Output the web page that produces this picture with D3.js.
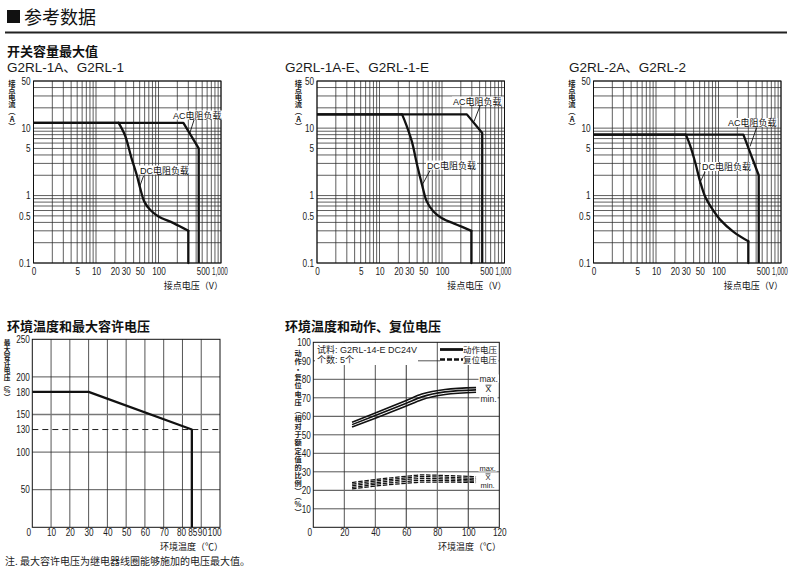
<!DOCTYPE html>
<html><head><meta charset="utf-8">
<script src="https://cdn.jsdelivr.net/npm/d3@7"></script>
<style>
body{margin:0;background:#fff;}
svg{display:block;}
</style></head><body>
<svg id="c" width="800" height="575"></svg>
<script>
// ---------------- DATA ----------------
// switching capacity charts (log-log): contact voltage (V) vs contact current (A)
const voltTicks = [1, 5, 10, 20, 30, 50, 100, 500, 1000];
const voltTickText = ["0", "5", "10", "20", "30", "50", "100", "500", "1,000"];
const currTicks = [0.1, 0.5, 1, 5, 10, 50];
const currTickText = ["0.1", "0.5", "1", "5", "10", "50"];

const g1AcV = [1, 250, 440, 440];
const g1AcA = [12, 12, 5, 0.1];
const g1DcV = [1, 23, 29, 37, 45, 51, 59, 74, 100, 174, 300, 300];
const g1DcA = [12, 12, 7.9, 3.6, 2.0, 1.28, 0.82, 0.61, 0.49, 0.39, 0.3, 0.1];

const g2AcV = [1, 250, 440, 440];
const g2AcA = [16, 16, 8.5, 0.1];
const g2DcV = [1, 23, 27, 33, 40, 48, 57, 73, 100, 173, 295, 295];
const g2DcA = [16, 16, 11, 6.3, 2.84, 1.44, 0.82, 0.58, 0.46, 0.37, 0.3, 0.1];

const g3AcV = [1, 250, 440, 440];
const g3AcA = [8, 8, 2, 0.1];
const g3DcV = [1, 30, 35, 42, 51, 61, 78, 106, 174, 300, 300];
const g3DcA = [8, 8, 5.6, 3.2, 1.6, 0.97, 0.65, 0.44, 0.29, 0.21, 0.1];

// ambient temperature vs max allowable voltage
const tempTicksL = [0, 10, 20, 30, 40, 50, 60, 70, 80, 85, 90, 100];
const pctTicksL = [250, 200, 180, 150, 130, 100, 50];
const maxTemp = [0, 30, 85, 85];
const maxPct = [180, 180, 130, 0];
const dashedPct = 130;

// ambient temperature vs operate / release voltage
const tempTicksR = [0, 20, 40, 60, 80, 100, 120];
const pctTicksR = [10, 20, 30, 40, 50, 60, 70, 80, 90, 100];
const sampleTemp = [25, 40, 60, 70, 85, 105];
const opMax  = [56.8, 61.8, 68.6, 72.0, 74.5, 75.5];
const opMean = [55.5, 60.4, 67.1, 70.5, 73.2, 74.3];
const opMin  = [54.2, 59.0, 65.6, 69.0, 71.8, 73.0];
const rel1 = [24.2, 25.8, 27.6, 28.3, 28.0, 27.3];
const rel2 = [23.3, 25.0, 26.7, 27.4, 27.1, 26.4];
const rel3 = [22.4, 24.1, 25.8, 26.4, 26.2, 25.6];
const rel4 = [21.5, 23.2, 24.8, 25.4, 25.3, 24.9];
const rel5 = [20.7, 22.3, 23.8, 24.4, 24.4, 24.2];

// ---------------- DRAW ----------------
const FONT = '"Liberation Sans", Arial, "Noto Sans CJK SC", sans-serif';
const CJK = '"Noto Sans CJK SC", "Liberation Sans", sans-serif';
const svg = d3.select("#c").style("font-family", FONT);
const GRID = "#2a2a2a";

function txt(g, s, x, y, size, opts = {}) {
  const t = g.append("text").attr("x", x).attr("y", y).attr("font-size", size)
    .attr("fill", opts.fill || "#111").text(s);
  if (opts.anchor) t.attr("text-anchor", opts.anchor);
  if (opts.weight) t.attr("font-weight", opts.weight);
  if (opts.family) t.attr("font-family", opts.family);
  return t;
}
function bgText(g, s, x, y, size, opts = {}) {
  const gg = g.append("g");
  const r = gg.append("rect").attr("fill", "#fff");
  const t = txt(gg, s, x, y, size, opts);
  const b = t.node().getBBox();
  r.attr("x", b.x - 1).attr("y", b.y + 1).attr("width", b.width + 2).attr("height", b.height - 2);
  return t;
}
// vertical (top-to-bottom) stacked label as one text element
function vertText(g, s, x, yFirstCenter, step, size) {
  g.append("text").attr("x", x).attr("y", yFirstCenter - step / 2)
    .attr("font-family", CJK).attr("font-size", size).attr("font-weight", "bold")
    .attr("fill", "#222").attr("letter-spacing", step - size)
    .style("writing-mode", "vertical-rl").style("text-orientation", "upright")
    .text(s);
}
// tick labels: condensed look (the reference uses a narrow face)
function styleTicks(sel, size) {
  sel.selectAll("text").attr("font-size", size).attr("fill", "#1a1a1a").attr("font-family", FONT)
    .each(function () {
      const l = this.getComputedTextLength();
      d3.select(this).attr("textLength", l * 0.82).attr("lengthAdjust", "spacingAndGlyphs");
    });
}

// Header
svg.append("rect").attr("x", 7).attr("y", 10).attr("width", 13).attr("height", 13).attr("fill", "#111");
txt(svg, "参考数据", 24, 24, 18, {family: CJK});
svg.append("line").attr("x1", 5).attr("x2", 787).attr("y1", 32.5).attr("y2", 32.5)
  .attr("stroke", "#222").attr("stroke-width", 2);
txt(svg, "开关容量最大值", 7, 56, 13, {family: CJK, weight: "bold"});

// ---------- log charts ----------
const yTop = d3.scaleLog().domain([0.1, 50]).range([263, 81]);
const vGrid = [];
[1, 10, 100].forEach(n => { for (let k = 1; k <= 9; k++) vGrid.push(k * n); });
vGrid.push(1000);
const hGrid = [];
[0.1, 1].forEach(n => { for (let k = 1; k <= 9; k++) hGrid.push(+(k * n).toFixed(2)); });
[10, 20, 30, 40, 50].forEach(v => hGrid.push(v));

function logChart(cfg) {
  const L = cfg.left, R = cfg.left + 187.5;
  const x = d3.scaleLog().domain([1, 1000]).range([L, R]);
  const y = yTop;
  const g = svg.append("g");
  txt(g, cfg.title, cfg.titleX, 72, 13.5, {fill: "#1a1a1a"});

  g.selectAll(".vg").data(vGrid).join("line")
    .attr("x1", d => x(d)).attr("x2", d => x(d)).attr("y1", y(50)).attr("y2", y(0.1))
    .attr("stroke", GRID).attr("stroke-width", 0.75);
  g.selectAll(".hg").data(hGrid).join("line")
    .attr("x1", L).attr("x2", R).attr("y1", d => y(d)).attr("y2", d => y(d))
    .attr("stroke", GRID).attr("stroke-width", 0.75);
  g.append("rect").attr("x", L).attr("y", y(50)).attr("width", R - L).attr("height", y(0.1) - y(50))
    .attr("fill", "none").attr("stroke", "#111").attr("stroke-width", 1);

  // axes
  const ax = g.append("g").attr("transform", `translate(0,${y(0.1)})`)
    .call(d3.axisBottom(x).tickValues(voltTicks).tickFormat((d, i) => voltTickText[i]).tickSize(0).tickPadding(5));
  ax.select(".domain").remove();
  styleTicks(ax, 10);
  ax.selectAll(".tick").filter(d => d === 500).select("text")
    .attr("text-anchor", "end").attr("x", 7.3).attr("textLength", 13.2);
  ax.selectAll(".tick").filter(d => d === 1000).select("text")
    .attr("text-anchor", "start").attr("x", x(500) - x(1000) + 9.3).attr("textLength", 15.8);

  const ay = g.append("g").attr("transform", `translate(${L},0)`)
    .call(d3.axisLeft(y).tickValues(currTicks).tickFormat((d, i) => currTickText[i]).tickSize(0).tickPadding(3));
  ay.select(".domain").remove();
  styleTicks(ay, 10);

  vertText(g, "接点电流（A）", cfg.ylabX, 83, 7.15, 7.3);
  txt(g, "接点电压（V）", R + 2, 289, 9, {anchor: "end", family: CJK});

  // curves
  const pts = (vs, as) => vs.map((v, i) => [x(v), y(as[i])]);
  const lin = d3.line();
  const smooth = d3.line().curve(d3.curveCatmullRom.alpha(0.5));
  const ac = pts(cfg.acV, cfg.acA);
  g.append("path").attr("d", lin(ac)).attr("fill", "none").attr("stroke", "#111")
    .attr("stroke-width", 2.3).attr("stroke-linejoin", "round");
  const dc = pts(cfg.dcV, cfg.dcA);
  const n = dc.length;
  g.append("path").attr("d", lin(dc.slice(0, 2))).attr("fill", "none").attr("stroke", "#111").attr("stroke-width", 2.3);
  g.append("path").attr("d", smooth(dc.slice(1, n - 1))).attr("fill", "none").attr("stroke", "#111")
    .attr("stroke-width", 2.3).attr("stroke-linecap", "round");
  g.append("path").attr("d", lin(dc.slice(n - 2))).attr("fill", "none").attr("stroke", "#111")
    .attr("stroke-width", 2.3).attr("stroke-linecap", "round");

  // annotations
  const a = cfg.acLbl, d = cfg.dcLbl;
  g.append("line").attr("x1", a.lx1).attr("y1", a.ly1).attr("x2", a.lx2).attr("y2", a.ly2).attr("stroke", "#111").attr("stroke-width", 0.9);
  bgText(g, "AC电阻负载", a.x, a.y, 9, {family: FONT});
  g.append("line").attr("x1", d.lx1).attr("y1", d.ly1).attr("x2", d.lx2).attr("y2", d.ly2).attr("stroke", "#111").attr("stroke-width", 0.9);
  bgText(g, "DC电阻负载", d.x, d.y, 9, {family: FONT});
}

logChart({left: 33.5, title: "G2RL-1A、G2RL-1", titleX: 7, ylabX: 12,
  acV: g1AcV, acA: g1AcA, dcV: g1DcV, dcA: g1DcA,
  acLbl: {x: 173, y: 118.5, lx1: 194, ly1: 120, lx2: 189.5, ly2: 134},
  dcLbl: {x: 140, y: 173.5, lx1: 143.5, ly1: 176, lx2: 139.5, ly2: 187}});
logChart({left: 317, title: "G2RL-1A-E、G2RL-1-E", titleX: 285, ylabX: 298.5,
  acV: g2AcV, acA: g2AcA, dcV: g2DcV, dcA: g2DcA,
  acLbl: {x: 453, y: 104.5, lx1: 480, ly1: 106, lx2: 474, ly2: 121.5},
  dcLbl: {x: 427, y: 168.5, lx1: 430, ly1: 170.5, lx2: 423, ly2: 183.5}});
logChart({left: 593.5, title: "G2RL-2A、G2RL-2", titleX: 569, ylabX: 572,
  acV: g3AcV, acA: g3AcA, dcV: g3DcV, dcA: g3DcA,
  acLbl: {x: 728, y: 126, lx1: 756.5, ly1: 128, lx2: 750, ly2: 146.5},
  dcLbl: {x: 702, y: 170, lx1: 705, ly1: 172, lx2: 699.5, ly2: 183.5}});

// ---------- bottom-left: max allowable voltage ----------
(function () {
  const g = svg.append("g");
  const x = d3.scaleLinear().domain([0, 100]).range([32.3, 220]);
  const y = d3.scaleLinear().domain([0, 250]).range([527.3, 339.3]);
  txt(g, "环境温度和最大容许电压", 7, 331, 13, {family: CJK, weight: "bold"});
  g.selectAll(".vg").data(d3.range(10, 100, 10)).join("line")
    .attr("x1", d => x(d)).attr("x2", d => x(d)).attr("y1", y(250)).attr("y2", y(0))
    .attr("stroke", GRID).attr("stroke-width", 0.8);
  g.selectAll(".hg").data([50, 100, 150, 200]).join("line")
    .attr("x1", x(0)).attr("x2", x(100)).attr("y1", d => y(d)).attr("y2", d => y(d))
    .attr("stroke", d => d === 150 ? "#777" : GRID).attr("stroke-width", d => d === 150 ? 1.3 : 0.8);
  g.append("line").attr("x1", x(0)).attr("x2", x(100)).attr("y1", y(dashedPct)).attr("y2", y(dashedPct))
    .attr("stroke", "#222").attr("stroke-width", 1).attr("stroke-dasharray", "6,4");
  g.append("rect").attr("x", x(0)).attr("y", y(250)).attr("width", x(100) - x(0)).attr("height", y(0) - y(250))
    .attr("fill", "none").attr("stroke", "#111").attr("stroke-width", 1);

  const ax = g.append("g").attr("transform", `translate(0,${y(0)})`)
    .call(d3.axisBottom(x).tickValues(tempTicksL).tickFormat(d3.format("d")).tickSize(0).tickPadding(1.5));
  ax.select(".domain").remove();
  styleTicks(ax, 10);
  ax.selectAll(".tick").filter(d => d === 0).select("text").attr("x", -4);
  ax.selectAll(".tick").filter(d => d === 80).select("text").attr("x", -1.5);
  ax.selectAll(".tick").filter(d => d === 85).select("text").attr("x", 0.5);
  ax.selectAll(".tick").filter(d => d === 90).select("text").attr("x", 0.7);
  ax.selectAll(".tick").filter(d => d === 100).select("text").attr("text-anchor", "end").attr("x", 1);

  const ay = g.append("g").attr("transform", `translate(${x(0)},0)`)
    .call(d3.axisLeft(y).tickValues(pctTicksL).tickFormat(d3.format("d")).tickSize(0).tickPadding(2.5));
  ay.select(".domain").remove();
  styleTicks(ay, 10);

  g.append("path").attr("d", d3.line()(maxTemp.map((t, i) => [x(t), y(maxPct[i])])))
    .attr("fill", "none").attr("stroke", "#111").attr("stroke-width", 2.3).attr("stroke-linejoin", "round");

  vertText(g, "最大容许电压（%）", 7, 342.7, 6.9, 6.7);
  txt(g, "环境温度（℃）", 223, 550, 9, {anchor: "end", family: CJK});
  txt(g, "注. 最大容许电压为继电器线圈能够施加的电压最大值。", 5, 565, 10, {family: CJK, fill: "#222"});
})();

// ---------- bottom-right: operate / release voltage ----------
(function () {
  const g = svg.append("g");
  const x = d3.scaleLinear().domain([0, 120]).range([313.3, 499.3]);
  const y = d3.scaleLinear().domain([0, 100]).range([527.3, 342.3]);
  txt(g, "环境温度和动作、复位电压", 285, 331, 13, {family: CJK, weight: "bold"});
  g.selectAll(".vg").data([20, 40, 60, 80, 100]).join("line")
    .attr("x1", d => x(d)).attr("x2", d => x(d)).attr("y1", y(100)).attr("y2", y(0))
    .attr("stroke", d => (d === 60 || d === 100) ? "#555" : GRID).attr("stroke-width", d => (d === 60 || d === 100) ? 1.2 : 0.8);
  g.selectAll(".hg").data(d3.range(10, 100, 10)).join("line")
    .attr("x1", x(0)).attr("x2", x(120)).attr("y1", d => y(d)).attr("y2", d => y(d))
    .attr("stroke", d => (d === 20 || d === 60) ? "#666" : GRID).attr("stroke-width", d => (d === 20 || d === 60) ? 1.3 : 0.8);

  // legend boxes (white)
  g.append("rect").attr("x", 315).attr("y", 343).attr("width", 103).attr("height", 22).attr("fill", "#fff");
  g.append("rect").attr("x", 440).attr("y", 343).attr("width", 58.5).attr("height", 22).attr("fill", "#fff");

  g.append("rect").attr("x", x(0)).attr("y", y(100)).attr("width", x(120) - x(0)).attr("height", y(0) - y(100))
    .attr("fill", "none").attr("stroke", "#111").attr("stroke-width", 1);

  const ax = g.append("g").attr("transform", `translate(0,${y(0)})`)
    .call(d3.axisBottom(x).tickValues(tempTicksR).tickFormat(d3.format("d")).tickSize(0).tickPadding(1.5));
  ax.select(".domain").remove();
  styleTicks(ax, 10);
  ax.selectAll(".tick").filter(d => d === 0).select("text").attr("x", -4);

  const ay = g.append("g").attr("transform", `translate(${x(0)},0)`)
    .call(d3.axisLeft(y).tickValues(pctTicksR).tickFormat(d3.format("d")).tickSize(0).tickPadding(2.5));
  ay.select(".domain").remove();
  styleTicks(ay, 10);

  const line = d3.line().curve(d3.curveMonotoneX);
  [opMax, opMean, opMin].forEach(s => {
    g.append("path").attr("d", line(sampleTemp.map((t, i) => [x(t), y(s[i])])))
      .attr("fill", "none").attr("stroke", "#111").attr("stroke-width", 1.6);
  });
  [rel1, rel2, rel3, rel4, rel5].forEach(s => {
    g.append("path").attr("d", line(sampleTemp.map((t, i) => [x(t), y(s[i])])))
      .attr("fill", "none").attr("stroke", "#111").attr("stroke-width", 1.25).attr("stroke-dasharray", "4.5,1.7");
  });

  // legend
  txt(g, "试料:  G2RL-14-E  DC24V", 317, 353, 9, {family: FONT, fill: "#222"});
  txt(g, "个数:  5个", 317, 362.5, 9, {family: FONT, fill: "#222"});
  g.append("line").attr("x1", 440).attr("x2", 463).attr("y1", 349.5).attr("y2", 349.5).attr("stroke", "#111").attr("stroke-width", 2.8);
  g.append("line").attr("x1", 440).attr("x2", 463).attr("y1", 359.5).attr("y2", 359.5).attr("stroke", "#111").attr("stroke-width", 2.6).attr("stroke-dasharray", "5,2");
  txt(g, "动作电压", 463, 352.5, 8.5, {family: CJK, fill: "#222"});
  txt(g, "复位电压", 463, 363, 8.5, {family: CJK, fill: "#222"});

  // max / mean / min labels
  function stat(yMax, yMean, yMin, size) {
    bgText(g, "max.", 479.5, yMax + 3, size, {fill: "#222"});
    const t = bgText(g, "X", 485.5, yMean + 3.3, size, {fill: "#222"});
    const b = t.node().getBBox();
    g.append("line").attr("x1", b.x).attr("x2", b.x + b.width).attr("y1", b.y + 1.4).attr("y2", b.y + 1.4).attr("stroke", "#222").attr("stroke-width", 0.8);
    bgText(g, "min.", 480.5, yMin + 3, size, {fill: "#222"});
  }
  stat(378.5, 388.5, 398.5, 8.5);
  stat(467.5, 476.2, 485, 7.5);

  vertText(g, "动作・复位电压（相对于额定值的比例）（%）", 298, 353.5, 8.15, 7.2);
  txt(g, "环境温度（℃）", 501, 550, 9, {anchor: "end", family: CJK});
})();
</script>
</body></html>
